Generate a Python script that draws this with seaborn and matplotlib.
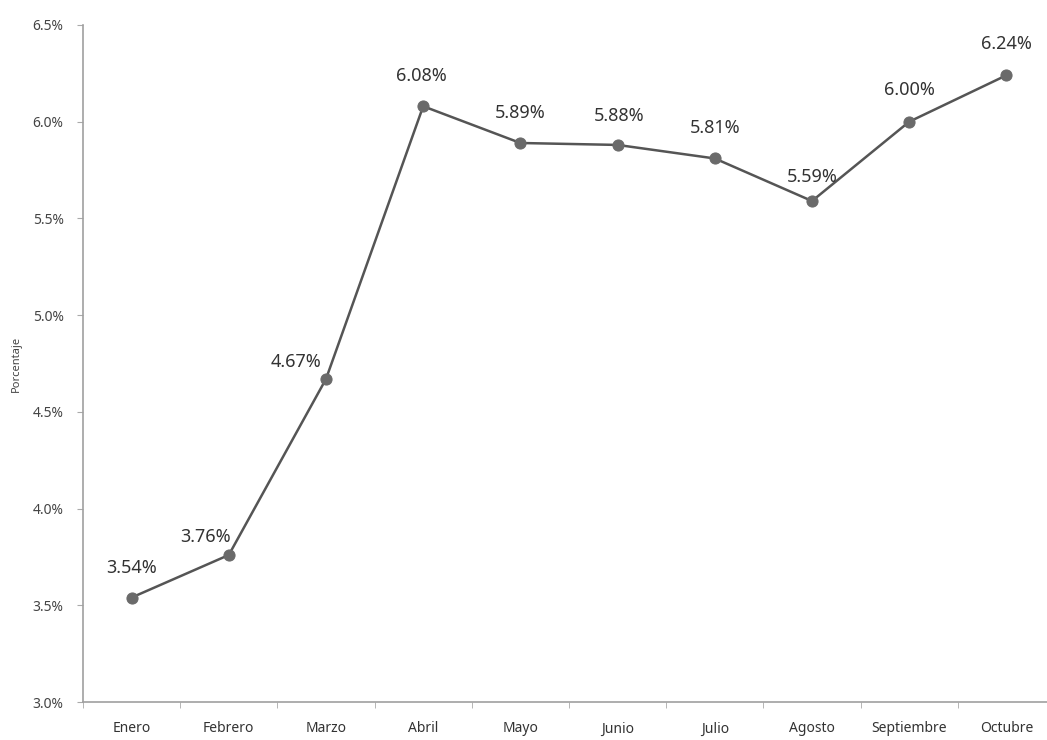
import matplotlib
matplotlib.use("Agg")
import matplotlib.pyplot as plt
import seaborn as sns
import pandas as pd
import numpy as np

# datos
meses = ["Enero", "Febrero", "Marzo", "Abril", "Mayo", "Junio",
         "Julio", "Agosto", "Septiembre", "Octubre"]
porcentaje = [3.54, 3.76, 4.67, 6.08, 5.89, 5.88, 5.81, 5.59, 6.00, 6.24]
y_ticks = [3.0, 3.5, 4.0, 4.5, 5.0, 5.5, 6.0, 6.5]

# desplazamiento de etiquetas (pixeles)
label_offsets = [(0, 30), (-23, 18), (-30, 17), (-2, 30), (0, 30),
                 (2, 29), (0, 30), (0, 24), (0, 32), (0, 31)]

df = pd.DataFrame({"mes": meses, "valor": porcentaje})
df["pos"] = np.arange(len(meses))

sns.set_style("white")
plt.rcParams["font.family"] = ["Noto Sans", "DejaVu Sans"]

fig = plt.figure(figsize=(10.47, 7.40), dpi=100)
ax = fig.add_axes([83 / 1047, 38 / 740, 972 / 1047, 677 / 740])

sns.lineplot(data=df, x="pos", y="valor", ax=ax, color="#555555",
             linewidth=1.8, marker="o", markersize=8,
             markerfacecolor="#6a6a6a", markeredgecolor="#6a6a6a")

for i, (v, off) in enumerate(zip(porcentaje, label_offsets)):
    ax.annotate(f"{v:.2f}%", (i, v), xytext=off, textcoords="offset pixels",
                ha="center", va="center", fontsize=13, color="#333333")

ax.set_xlim(-0.5, len(meses) - 0.5)
ax.set_ylim(3.0, 6.5)
ax.set_yticks(y_ticks)
ax.set_yticklabels([f"{t:.1f}%" for t in y_ticks])
ax.set_xticks(np.arange(len(meses)))
ax.set_xticklabels(meses)
ax.set_xticks(np.arange(len(meses) + 1) - 0.5, minor=True)

ax.tick_params(axis="x", which="major", length=0, pad=14, labelsize=10, labelcolor="#333333")
ax.tick_params(axis="x", which="minor", length=4, color="#aaaaaa", direction="out", bottom=True)
ax.tick_params(axis="y", length=4, color="#aaaaaa", pad=10, labelsize=10, labelcolor="#444444", left=True)

ax.set_xlabel("")
ax.set_ylabel("Porcentaje", fontsize=8, color="#444444", labelpad=8)

sns.despine(ax=ax)
for s in ["left", "bottom"]:
    ax.spines[s].set_color("#a0a0a0")
    ax.spines[s].set_linewidth(1.2)

fig.savefig("out.png", dpi=100)
plt.close(fig)
